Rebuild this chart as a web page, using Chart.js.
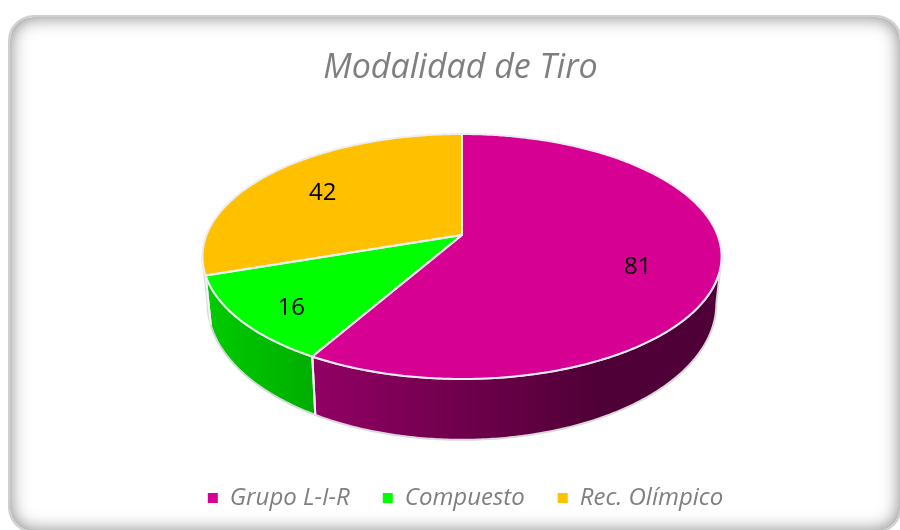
<!DOCTYPE html>
<html>
<head>
<meta charset="utf-8">
<script src="https://cdn.jsdelivr.net/npm/chart.js@4"></script>
<style>
html, body { margin: 0; padding: 0; width: 900px; height: 530px; overflow: hidden; background: #fff; }
#card {
    position: absolute; left: 8px; top: 15px; width: 890px; height: 514px;
    border: 2px solid #d0d0d0; border-radius: 26px;
    box-shadow: inset 0 0 18px rgba(0, 0, 0, 0.5);
}
canvas { position: absolute; left: 0; top: 0; }
</style>
</head>
<body>
<div id="card"></div>
<canvas id="modalidadChart" width="900" height="530"></canvas>
<script>
const categories = ['Grupo L-I-R', 'Compuesto', 'Rec. Olímpico'];
const values = [81, 16, 42];
const colors = ['#D60093', '#00FF00', '#FFC000'];

// tilted disc: the library gives the angles, this maps them on to the page
const disc = { cx: 462, cy: 235, rx: 255.5, ry: 118.7, persp: 0.1755 };
const rim = { cy: 280, kx: 0.98, ky: 1.11 };
const labelFrac = [0.69, 0.79, 0.72];
const labelDrop = [10, 8, 5];

function topPoint(a, f) {
    const u = Math.cos(a) * f, v = Math.sin(a) * f;
    const d = 1 - disc.persp * v;
    return [disc.cx + disc.rx * u / d, disc.cy + disc.ry * v / d];
}

function rimPoint(a) {
    const u = Math.cos(a), v = Math.sin(a);
    const d = 1 - disc.persp * v;
    return [disc.cx + rim.kx * disc.rx * u / d, rim.cy + rim.ky * disc.ry * v / d];
}

function shade(hex, k) {
    const n = parseInt(hex.slice(1), 16);
    const r = Math.round((n >> 16) * k), g = Math.round(((n >> 8) & 255) * k), b = Math.round((n & 255) * k);
    return 'rgb(' + r + ',' + g + ',' + b + ')';
}

const tiltedPie = {
    id: 'tiltedPie',
    afterLayout(chart) {
        // legend sits a little right of the title in the original
        chart.legend.left += 5;
        chart.legend.right += 5;
    },
    beforeDatasetDraw(chart) {
        const ctx = chart.ctx;
        const arcs = chart.getDatasetMeta(0).data;
        const from = Math.asin(disc.persp), to = Math.PI - from;
        const step = 0.01;
        ctx.save();
        ctx.lineJoin = 'round';

        // side wall
        arcs.forEach((arc, i) => {
            const a0 = Math.max(arc.startAngle, from), a1 = Math.min(arc.endAngle, to);
            if (a1 <= a0) return;
            const grad = ctx.createLinearGradient(205, 0, 600, 0);
            grad.addColorStop(0, shade(colors[i], 0.8));
            grad.addColorStop(1, shade(colors[i], 0.37));
            ctx.beginPath();
            for (let a = a0; a < a1; a += step) ctx.lineTo(...topPoint(a, 1));
            ctx.lineTo(...topPoint(a1, 1));
            for (let a = a1; a > a0; a -= step) ctx.lineTo(...rimPoint(a));
            ctx.lineTo(...rimPoint(a0));
            ctx.closePath();
            ctx.fillStyle = grad;
            ctx.fill();
            ctx.strokeStyle = '#d8d8dc';
            ctx.lineWidth = 2;
            ctx.stroke();
        });
        arcs.forEach((arc) => {
            if (arc.endAngle <= from || arc.endAngle >= to) return;
            ctx.beginPath();
            ctx.moveTo(...topPoint(arc.endAngle, 1));
            ctx.lineTo(...rimPoint(arc.endAngle));
            ctx.strokeStyle = '#f4f4f4';
            ctx.lineWidth = 2;
            ctx.stroke();
        });

        // top face
        arcs.forEach((arc, i) => {
            ctx.beginPath();
            ctx.moveTo(disc.cx, disc.cy);
            for (let a = arc.startAngle; a < arc.endAngle; a += step) ctx.lineTo(...topPoint(a, 1));
            ctx.lineTo(...topPoint(arc.endAngle, 1));
            ctx.closePath();
            ctx.fillStyle = colors[i];
            ctx.fill();
        });
        arcs.forEach((arc) => {
            ctx.beginPath();
            ctx.moveTo(disc.cx, disc.cy);
            for (let a = arc.startAngle; a < arc.endAngle; a += step) ctx.lineTo(...topPoint(a, 1));
            ctx.lineTo(...topPoint(arc.endAngle, 1));
            ctx.closePath();
            ctx.strokeStyle = '#eeeef2';
            ctx.lineWidth = 2;
            ctx.stroke();
        });

        // value labels
        ctx.fillStyle = '#000';
        ctx.font = '24px "Open Sans"';
        ctx.textAlign = 'center';
        ctx.textBaseline = 'middle';
        arcs.forEach((arc, i) => {
            const p = topPoint((arc.startAngle + arc.endAngle) / 2, labelFrac[i]);
            ctx.fillText(values[i], p[0], p[1] + labelDrop[i]);
        });
        ctx.restore();
        return false;
    }
};

const ctx = document.getElementById('modalidadChart').getContext('2d');

const chartData = {
    labels: categories,
    datasets: [{
        data: values,
        backgroundColor: colors,
        borderWidth: 0
    }]
};

const config = {
    type: 'pie',
    data: chartData,
    plugins: [tiltedPie],
    options: {
        responsive: false,
        animation: false,
        layout: { padding: { left: 21, top: 38, bottom: 10, right: 0 } },
        plugins: {
            tooltip: { enabled: false },
            title: {
                display: true,
                text: 'Modalidad de Tiro',
                color: '#7f7f7f',
                font: { family: '"Open Sans"', size: 34, style: 'italic', weight: 'normal' }
            },
            legend: {
                position: 'bottom',
                labels: {
                    usePointStyle: true,
                    pointStyle: 'rect',
                    boxWidth: 10,
                    boxHeight: 10,
                    padding: 33,
                    color: '#7f7f7f',
                    font: { family: '"Open Sans"', size: 24, style: 'italic' }
                }
            }
        }
    }
};

new Chart(ctx, config);
</script>
</body>
</html>
